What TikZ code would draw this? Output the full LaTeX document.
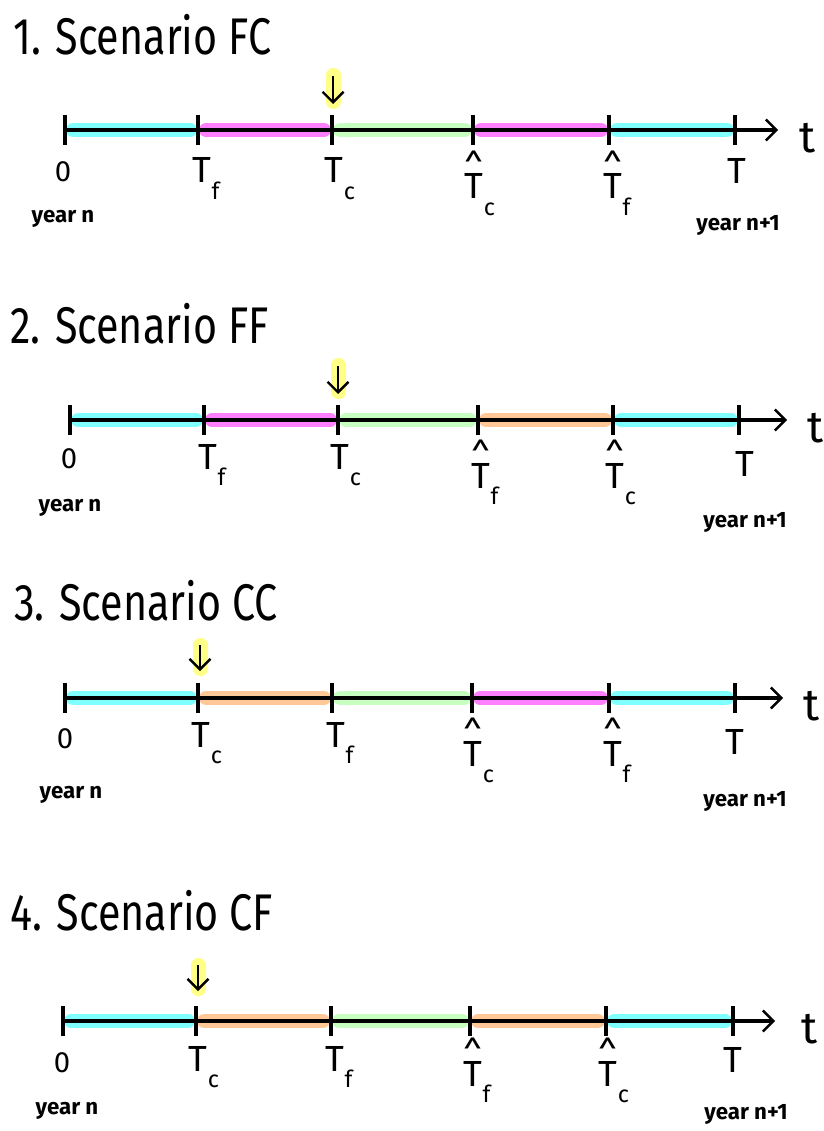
\documentclass[tikz,border=0pt]{standalone}
\usepackage{fontspec}
\setmainfont{Fira Sans}
\usetikzlibrary{arrows.meta}
\tikzset{>={Straight Barb[length=9pt,width=18pt,line width=2pt]}}

\definecolor{cyanband}{HTML}{80FFFF}
\definecolor{pinkband}{HTML}{FF80FF}
\definecolor{greenband}{HTML}{C6FFC0}
\definecolor{orangeband}{HTML}{FFC896}
\definecolor{markyellow}{HTML}{FFFF88}

\tikzset{
  axis/.style={line width=2.6pt},
  tick/.style={line width=2.6pt},
  band/.style={line width=12.5pt,line cap=round,shorten <=7pt,shorten >=7pt},
  title/.style={anchor=base west,inner sep=0pt,font=\fontsize{44}{44}\selectfont},
  lab/.style={anchor=base,inner sep=0pt,font=\fontsize{31}{31}\selectfont},
  zerolab/.style={anchor=base,inner sep=0pt,font=\fontsize{25}{25}\selectfont},
  tlab/.style={inner sep=0pt,font=\fontsize{38}{38}\selectfont},
  yearlab/.style={inner sep=0pt,font=\fontsize{19}{19}\selectfont\bfseries},
  marker/.style={fill=markyellow,rounded corners=6pt}
}
\newcommand{\sctitle}[1]{\scalebox{0.8}[1]{#1}}
\newcommand{\Tlab}[1]{T\kern0.01em\raisebox{-0.45em}{\fontsize{20}{20}\selectfont #1}}
\newcommand{\Thatlab}[1]{\setbox0\hbox{T}\rlap{\hbox to \wd0{\hss\raisebox{0.52em}{\fontsize{30}{30}\selectfont\^{}}\hss}}\Tlab{#1}}

\begin{document}
\begin{tikzpicture}[x=0.03cm,y=-0.03cm]
\useasboundingbox (0,0) rectangle (824,1131);

% ---------- 1. Scenario FC
\node[title] (fctitle) at (13,55) {\sctitle{1. Scenario FC}};
\foreach \x [count=\i from 0] in {65,198,332,473,609,735}
  \coordinate (fc\i) at (\x,130);
\coordinate (fcend) at (778,130);
\foreach \i/\j/\c in {0/1/cyanband,1/2/pinkband,2/3/greenband,3/4/pinkband,4/5/cyanband}
  \draw[band,draw=\c] (fc\i) -- (fc\j);
\draw[axis,->] (fc0) -- (fcend);
\foreach \i in {0,...,5}
  \draw[tick] (fc\i) ++(0,-15) -- ++(0,30);
\fill[marker] (326,68) rectangle (341,109);
\draw[line width=2pt,->] (333,76) -- (333,104);
\node[zerolab] (fcl0) at (63,182) {0};
\node[lab] (fcl1) at (206,183) {\Tlab{f}};
\node[lab] (fcl2) at (340,183) {\Tlab{c}};
\node[lab] (fcl3) at (480,199) {\Thatlab{c}};
\node[lab] (fcl4) at (617,199) {\Thatlab{f}};
\node[lab] (fcl5) at (737,184) {T};
\node[tlab] (fct) at (808,138) {t};
\node[yearlab] (fcyn) at (63,219) {year n};
\node[yearlab] (fcyn1) at (738,225) {year n+1};

% ---------- 2. Scenario FF
\node[title] (fftitle) at (10,343) {\sctitle{2. Scenario FF}};
\foreach \x [count=\i from 0] in {70,204,338,478,613,739}
  \coordinate (ff\i) at (\x,420);
\coordinate (ffend) at (787,420);
\foreach \i/\j/\c in {0/1/cyanband,1/2/pinkband,2/3/greenband,3/4/orangeband,4/5/cyanband}
  \draw[band,draw=\c] (ff\i) -- (ff\j);
\draw[axis,->] (ff0) -- (ffend);
\foreach \i in {0,...,5}
  \draw[tick] (ff\i) ++(0,-15) -- ++(0,30);
\fill[marker] (331,358) rectangle (346,399);
\draw[line width=2pt,->] (338,366) -- (338,394);
\node[zerolab] (ffl0) at (69,468) {0};
\node[lab] (ffl1) at (212,469) {\Tlab{f}};
\node[lab] (ffl2) at (346,469) {\Tlab{c}};
\node[lab] (ffl3) at (485,488) {\Thatlab{f}};
\node[lab] (ffl4) at (621,488) {\Thatlab{c}};
\node[lab] (ffl5) at (745,476) {T};
\node[tlab] (fft) at (816,428) {t};
\node[yearlab] (ffyn) at (70,508) {year n};
\node[yearlab] (ffyn1) at (745,522) {year n+1};

% ---------- 3. Scenario CC
\node[title] (cctitle) at (14,620) {\sctitle{3. Scenario CC}};
\foreach \x [count=\i from 0] in {65,198,332,472,609,735}
  \coordinate (cc\i) at (\x,698);
\coordinate (ccend) at (783,698);
\foreach \i/\j/\c in {0/1/cyanband,1/2/orangeband,2/3/greenband,3/4/pinkband,4/5/cyanband}
  \draw[band,draw=\c] (cc\i) -- (cc\j);
\draw[axis,->] (cc0) -- (ccend);
\foreach \i in {0,...,5}
  \draw[tick] (cc\i) ++(0,-15) -- ++(0,30);
\fill[marker] (193,638) rectangle (208,676);
\draw[line width=2pt,->] (200,645) -- (200,671);
\node[zerolab] (ccl0) at (65,748) {0};
\node[lab] (ccl1) at (207,747) {\Tlab{c}};
\node[lab] (ccl2) at (340,747) {\Tlab{f}};
\node[lab] (ccl3) at (479,766) {\Thatlab{c}};
\node[lab] (ccl4) at (617,766) {\Thatlab{f}};
\node[lab] (ccl5) at (735,754) {T};
\node[tlab] (cct) at (812,706) {t};
\node[yearlab] (ccyn) at (71,795) {year n};
\node[yearlab] (ccyn1) at (745,801) {year n+1};

% ---------- 4. Scenario CF
\node[title] (cftitle) at (10,930) {\sctitle{4. Scenario CF}};
\foreach \x [count=\i from 0] in {63,196,331,470,606,733}
  \coordinate (cf\i) at (\x,1021);
\coordinate (cfend) at (775,1021);
\foreach \i/\j/\c in {0/1/cyanband,1/2/orangeband,2/3/greenband,3/4/orangeband,4/5/cyanband}
  \draw[band,draw=\c] (cf\i) -- (cf\j);
\draw[axis,->] (cf0) -- (cfend);
\foreach \i in {0,...,5}
  \draw[tick] (cf\i) ++(0,-15) -- ++(0,30);
\fill[marker] (191,958) rectangle (206,996);
\draw[line width=2pt,->] (198,965) -- (198,991);
\node[zerolab] (cfl0) at (62,1072) {0};
\node[lab] (cfl1) at (204,1071) {\Tlab{c}};
\node[lab] (cfl2) at (339,1071) {\Tlab{f}};
\node[lab] (cfl3) at (477,1086) {\Thatlab{f}};
\node[lab] (cfl4) at (614,1086) {\Thatlab{c}};
\node[lab] (cfl5) at (733,1072) {T};
\node[tlab] (cft) at (810,1029) {t};
\node[yearlab] (cfyn) at (67,1111) {year n};
\node[yearlab] (cfyn1) at (746,1114) {year n+1};
\end{tikzpicture}
\end{document}
